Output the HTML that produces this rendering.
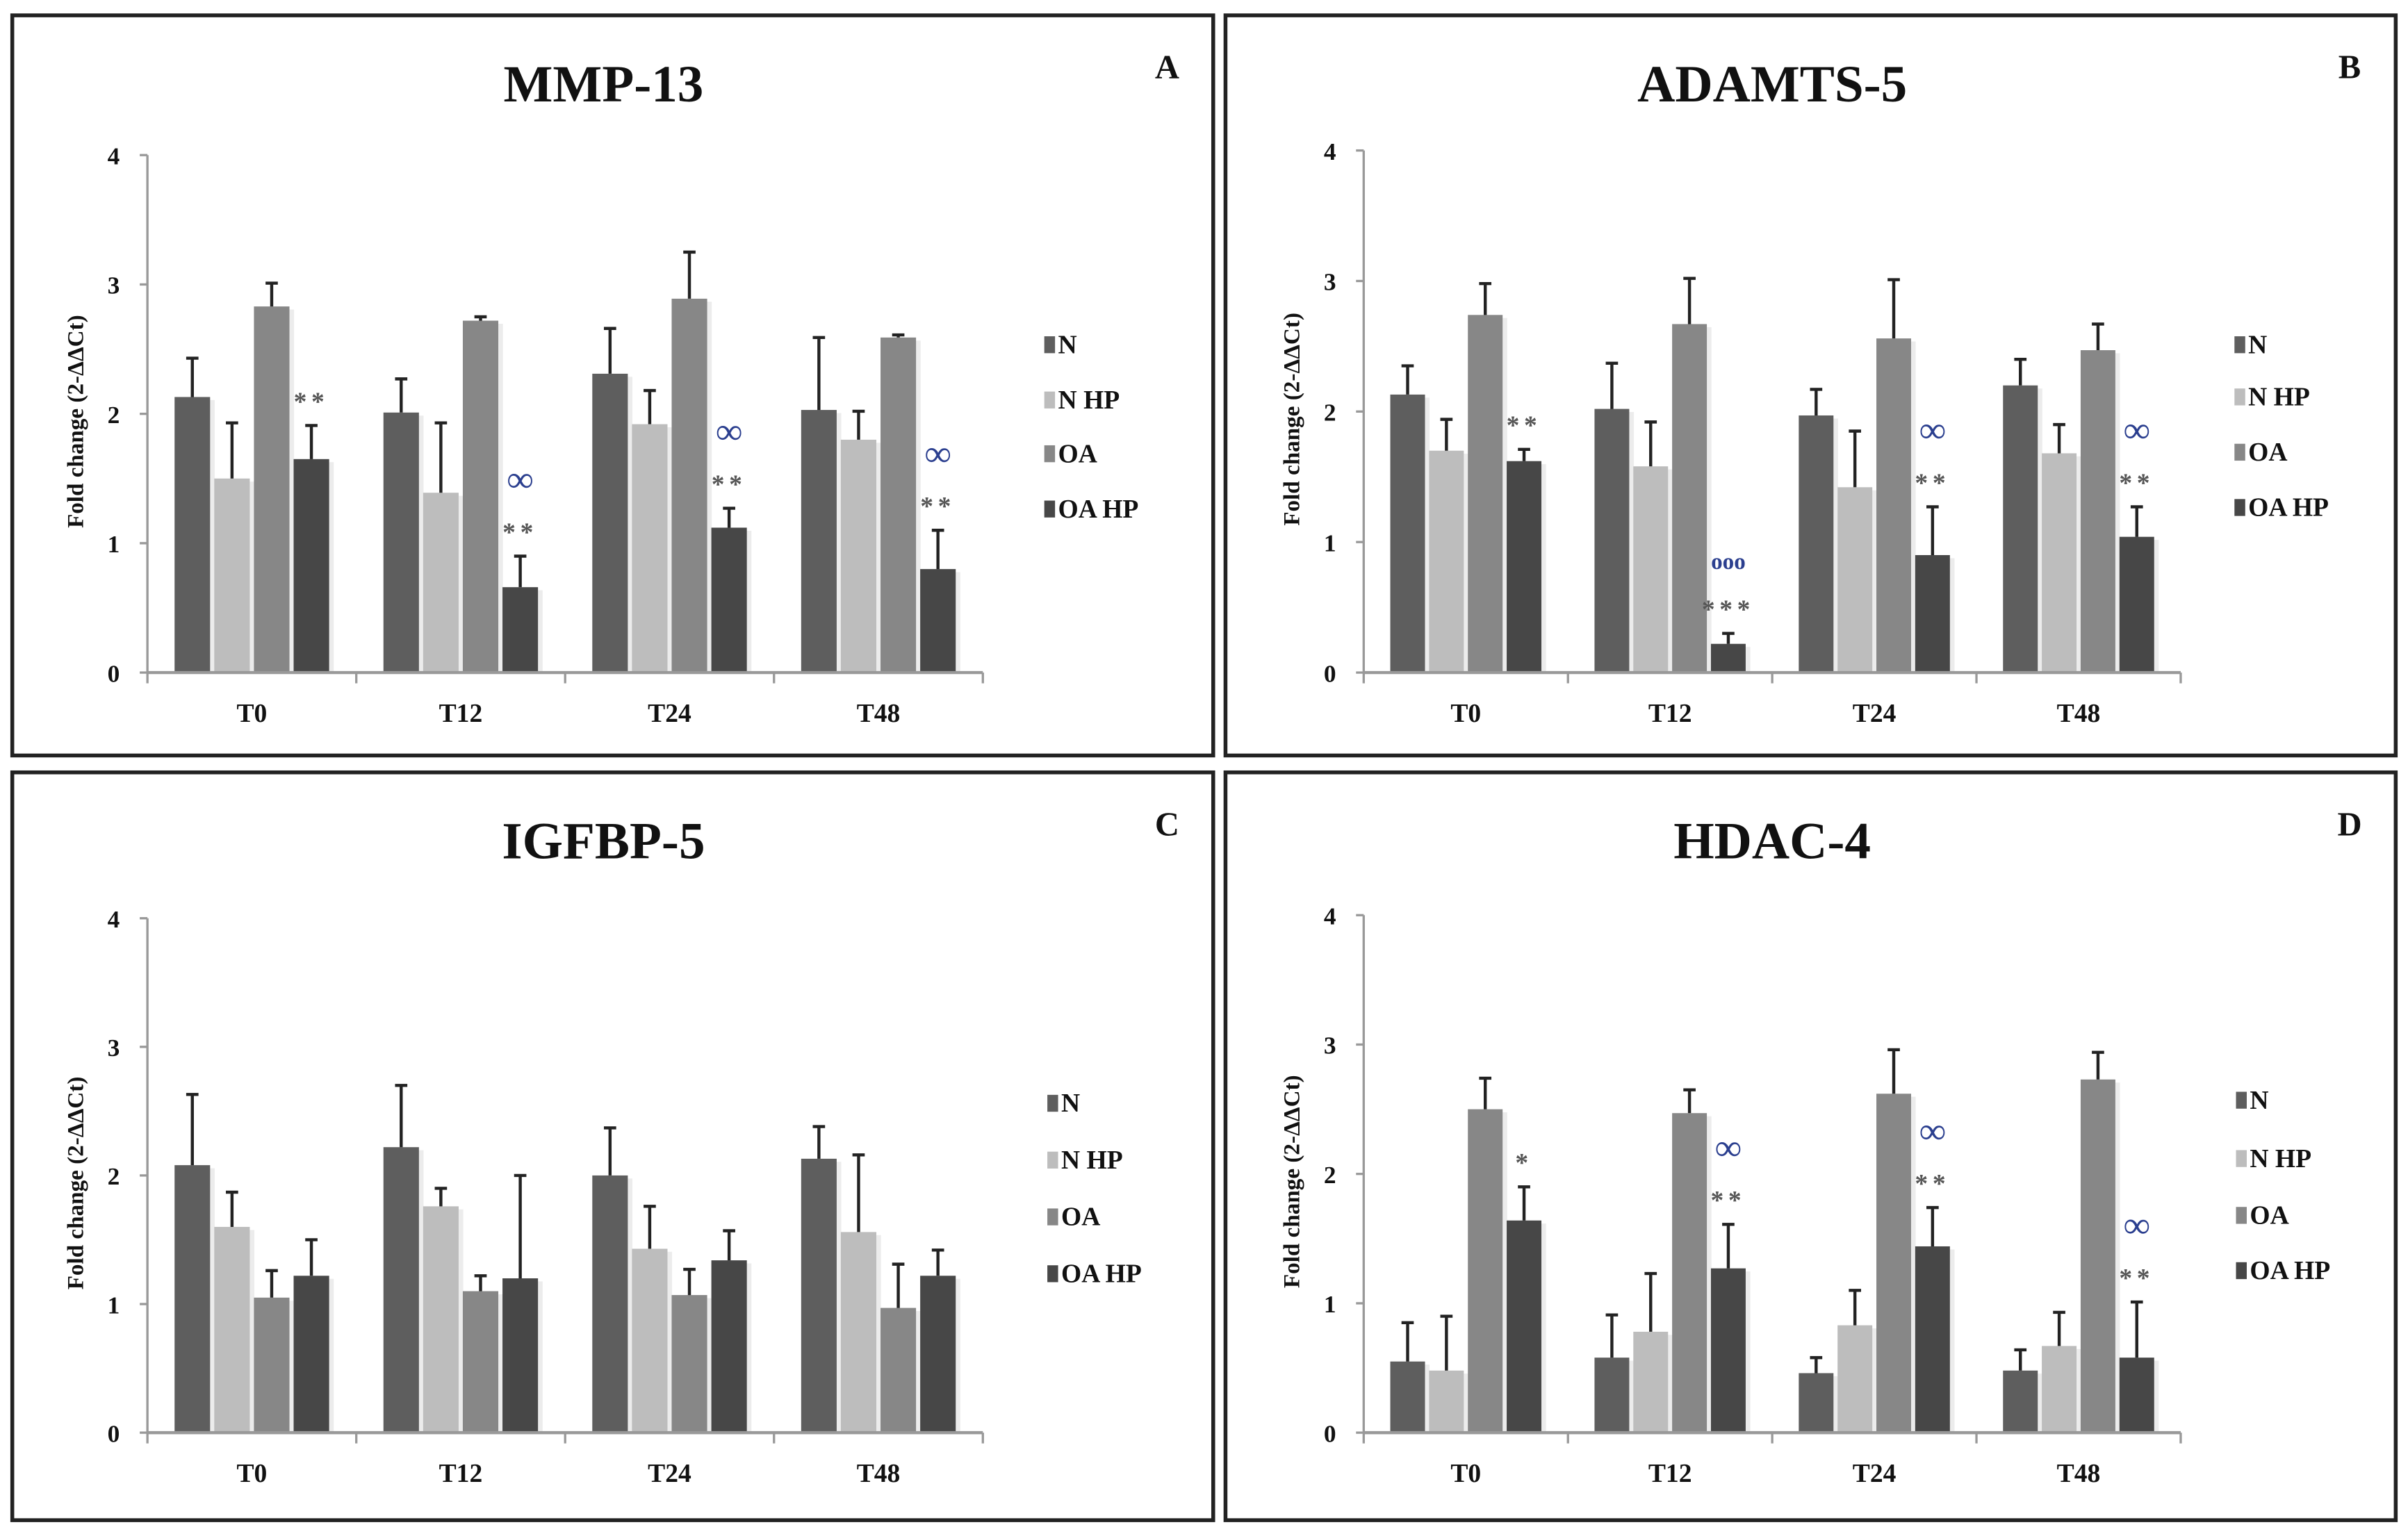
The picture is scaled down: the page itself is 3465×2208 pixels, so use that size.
<!DOCTYPE html>
<html><head><meta charset="utf-8"><style>
html,body{margin:0;padding:0;background:#fff;}
svg{display:block;}
text{font-family:"Liberation Serif",serif;font-weight:bold;}
</style></head><body>
<svg id="fig" width="3465" height="2208" viewBox="0 0 1568 999" preserveAspectRatio="none" xmlns="http://www.w3.org/2000/svg">
<rect x="0" y="0" width="1568" height="999" fill="#fff"/>
</svg>
<script>
const categories = ["T0","T12","T24","T48"];
const seriesNames = ["N","N HP","OA","OA HP"];
const yTicks = [0,1,2,3,4];
// Panel A MMP-13
const mmpMeans = [[2.13,2.01,2.31,2.03],[1.50,1.39,1.92,1.80],[2.83,2.72,2.89,2.59],[1.65,0.66,1.12,0.80]];
const mmpErr = [[0.30,0.26,0.35,0.56],[0.43,0.54,0.26,0.22],[0.18,0.03,0.36,0.02],[0.26,0.24,0.15,0.30]];
const mmpStars = ["**","**","**","**"];
const mmpInf = ["","∞","∞","∞"];
// Panel B ADAMTS-5
const adaMeans = [[2.13,2.02,1.97,2.20],[1.70,1.58,1.42,1.68],[2.74,2.67,2.56,2.47],[1.62,0.22,0.90,1.04]];
const adaErr = [[0.22,0.35,0.20,0.20],[0.24,0.34,0.43,0.22],[0.24,0.35,0.45,0.20],[0.09,0.08,0.37,0.23]];
const adaStars = ["**","***","**","**"];
const adaInf = ["","ooo","∞","∞"];
// Panel C IGFBP-5
const igfMeans = [[2.08,2.22,2.00,2.13],[1.60,1.76,1.43,1.56],[1.05,1.10,1.07,0.97],[1.22,1.20,1.34,1.22]];
const igfErr = [[0.55,0.48,0.37,0.25],[0.27,0.14,0.33,0.60],[0.21,0.12,0.20,0.34],[0.28,0.80,0.23,0.20]];
const igfStars = ["","","",""];
const igfInf = ["","","",""];
// Panel D HDAC-4
const hdaMeans = [[0.55,0.58,0.46,0.48],[0.48,0.78,0.83,0.67],[2.50,2.47,2.62,2.73],[1.64,1.27,1.44,0.58]];
const hdaErr = [[0.30,0.33,0.12,0.16],[0.42,0.45,0.27,0.26],[0.24,0.18,0.34,0.21],[0.26,0.34,0.30,0.43]];
const hdaStars = ["*","**","**","**"];
const hdaInf = ["","∞","∞","∞"];

const colors = ["#5e5e5e","#bdbdbd","#878787","#474747"];
const NS = "http://www.w3.org/2000/svg";
const svg = document.getElementById('fig');
function mk(tag, attrs, parent, txt){
  const e = document.createElementNS(NS, tag);
  for (const k in attrs) e.setAttribute(k, attrs[k]);
  if (txt !== undefined) e.textContent = txt;
  (parent || svg).appendChild(e);
  return e;
}
const panels = [
  {id:"a", title:"MMP-13", letter:"A", fx:8, fy:10, fw:782, fh:482, ax:96, axEnd:640, y0:438, y4:101, lx:680, ly:[230,266,301,337], m:mmpMeans, e:mmpErr, s:mmpStars, inf:mmpInf},
  {id:"b", title:"ADAMTS-5", letter:"B", fx:798, fy:10, fw:762, fh:482, ax:888, axEnd:1420, y0:438, y4:98, lx:1455, ly:[230,264,300,336], m:adaMeans, e:adaErr, s:adaStars, inf:adaInf},
  {id:"c", title:"IGFBP-5", letter:"C", fx:8, fy:503, fw:782, fh:487, ax:96, axEnd:640, y0:933, y4:598, lx:682, ly:[724,761,798,835], m:igfMeans, e:igfErr, s:igfStars, inf:igfInf},
  {id:"d", title:"HDAC-4", letter:"D", fx:798, fy:503, fw:762, fh:487, ax:888, axEnd:1420, y0:933, y4:596, lx:1456, ly:[722,760,797,833], m:hdaMeans, e:hdaErr, s:hdaStars, inf:hdaInf}
];
panels.forEach(p=>{
  const g = mk('g',{});
  
  
  const fr = mk('rect',{x:p.fx,y:p.fy,width:p.fw,height:p.fh,fill:"none",stroke:"#222","stroke-width":2.5},g);
  
  
  const t = mk('text',{x:(p.ax+p.axEnd)/2+(p.id==='a'||p.id==='c'?25:0),y:p.fy+56,"font-size":34,"text-anchor":"middle",fill:"#111"},g,p.title);
  
  
  const lt = mk('text',{x:p.fx+p.fw-30,y:p.fy+41,"font-size":22,"text-anchor":"middle",fill:"#111"},g,p.letter);
  
  
  const unit = (p.y0-p.y4)/4;
  const yS = v => p.y0 - v*unit;
  const cw = (p.axEnd-p.ax)/categories.length;
  const xS = (ci,si) => p.ax + cw*ci + cw*(0.5 + (si-1.5)*0.19);
  const bw = cw*0.17;
  const ya = mk('line',{x1:p.ax,y1:yS(4),x2:p.ax,y2:p.y0,stroke:"#999","stroke-width":1.5},g);
  
  
  yTicks.forEach(v=>{
    mk('line',{x1:p.ax-5,y1:yS(v),x2:p.ax,y2:yS(v),stroke:"#999","stroke-width":1.5},g);
    const tl = mk('text',{x:p.ax-18,y:yS(v)+6,"font-size":16,"text-anchor":"end",fill:"#111"},g,String(v));
    
    
  });
  const yt = mk('text',{x:0,y:0,"font-size":15,"text-anchor":"middle",fill:"#111",transform:`translate(${p.ax-42},${(p.y0+yS(4))/2+5}) rotate(-90)`},g,"Fold change (2-ΔΔCt)");
  
  
  categories.forEach((c,ci)=>{
    for(let si=0;si<4;si++){
      const v = p.m[si][ci], er = p.e[si][ci];
      const x = xS(ci,si);
      mk('rect',{x:x-bw/2+3,y:yS(v)+2,width:bw,height:p.y0-yS(v)-2,fill:"#ececec"},g);
      const r = mk('rect',{x:x-bw/2,y:yS(v),width:bw,height:p.y0-yS(v),fill:colors[si]},g);
      
      
      const eb = mk('path',{d:`M${x},${yS(v)} V${yS(v+er)} M${x-4},${yS(v+er)} H${x+4}`,stroke:"#222","stroke-width":2,fill:"none"},g);
      
      
    }
    const xo = xS(ci,3), top = yS(p.m[3][ci]+p.e[3][ci]);
    if(p.s[ci]){
      const st = mk('text',{x:xo,y:top-10,"font-size":17,"text-anchor":"middle",fill:"#555","letter-spacing":"3"},g,p.s[ci]);
      
      
    }
    if(p.inf[ci]){
      const it = mk('text',{x:xo,y:top-42,"font-size":p.inf[ci]==="ooo"?15:24,"text-anchor":"middle",fill:"#2b3f8f"},g,p.inf[ci]);
      
      
    }
    const cl = mk('text',{x:p.ax+cw*(ci+0.5),y:p.y0+32,"font-size":17,"text-anchor":"middle",fill:"#111"},g,c);
    
    
  });
  const xa = mk('line',{x1:p.ax,y1:p.y0,x2:p.axEnd,y2:p.y0,stroke:"#999","stroke-width":2},g);
  
  
  for(let i=0;i<=categories.length;i++){
    mk('line',{x1:p.ax+cw*i,y1:p.y0,x2:p.ax+cw*i,y2:p.y0+7,stroke:"#999","stroke-width":1.5},g);
  }
  seriesNames.forEach((n,si)=>{
    const le = mk('g',{},g);
    
    
    mk('rect',{x:p.lx,y:p.ly[si]-11,width:7,height:11,fill:colors[si]},le);
    mk('text',{x:p.lx+9,y:p.ly[si],"font-size":17,fill:"#111"},le,n);
  });
});
</script>
</body></html>
